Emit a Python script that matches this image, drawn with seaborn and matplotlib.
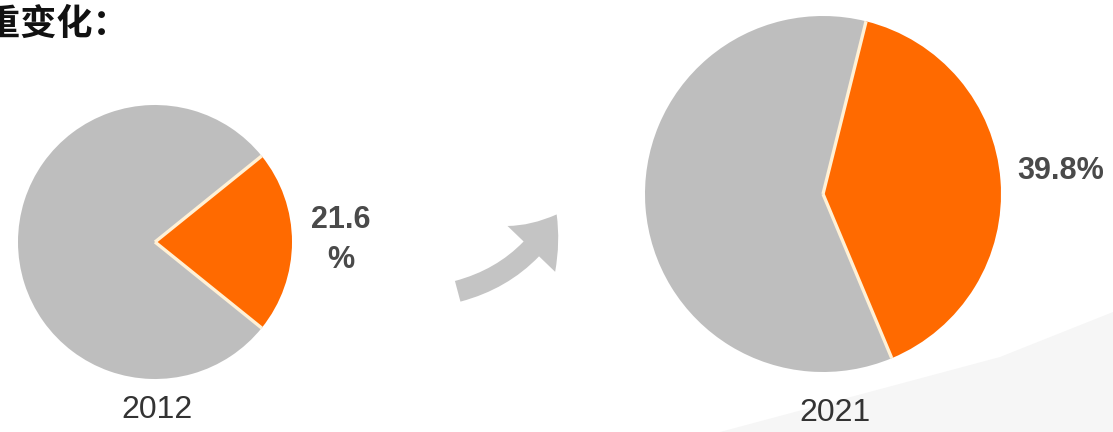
import matplotlib
matplotlib.use("Agg")
import numpy as np
import matplotlib.pyplot as plt
from matplotlib.patches import FancyArrowPatch, Polygon
import seaborn as sns

sns.set_theme(style="white")
plt.rcParams['font.family'] = ['Liberation Sans', 'Noto Sans CJK SC', 'DejaVu Sans']

# Share of the highlighted segment in each year
years = ["2012", "2021"]
share = [21.6, 39.8]
share_labels = ["21.6\n%", "39.8%"]
colors = ["#FF6A00", "#BEBEBE"]
title = "比重变化："

W, H = 1113, 432
fig = plt.figure(figsize=(W / 100, H / 100), dpi=100)
ax = fig.add_axes([0, 0, 1, 1])
ax.set_xlim(0, W)
ax.set_ylim(0, H)
ax.set_aspect("equal")
ax.axis("off")

# faint background shading in the lower right
ax.add_patch(Polygon([(720, 0), (1113, 0), (1113, 120), (1000, 75)],
                     closed=True, color="#F6F6F6", zorder=0, lw=0))

# pie layout: centre, radius, start angle, label positions
layout = [
    dict(center=(155, 190), radius=137, start=share[0] * 1.8, year_xy=(157, 22), lab_xy=(341, 192)),
    dict(center=(823, 238), radius=178, start=76, year_xy=(835, 19), lab_xy=(1061, 261)),
]

for yr, s, lab, L in zip(years, share, share_labels, layout):
    wedges, _ = ax.pie([s, 100 - s], colors=colors, center=L["center"], radius=L["radius"],
                       startangle=L["start"], counterclock=False,
                       wedgeprops=dict(linewidth=0))
    # light separator lines along the wedge boundaries
    cx, cy = L["center"]
    for w in wedges:
        t = np.deg2rad(w.theta1)
        ax.plot([cx, cx + L["radius"] * np.cos(t)], [cy, cy + L["radius"] * np.sin(t)],
                color="#FFF1D6", lw=2.4, solid_capstyle="butt", zorder=2)
    ax.text(*L["year_xy"], yr, ha="center", va="center", fontsize=23, color="#333333")
    ax.text(*L["lab_xy"], lab, ha="center", va="center", fontsize=22,
            fontweight="bold", color="#4A4A4A", linespacing=1.4)

ax.set_xlim(0, W)
ax.set_ylim(0, H)

# curved arrow between the two pies
arrow = FancyArrowPatch((455, 140), (558, 220),
                        connectionstyle="arc3,rad=0.22",
                        arrowstyle="simple,head_length=2.2,head_width=3.4,tail_width=1.1",
                        mutation_scale=14, color="#C4C4C4", lw=0, zorder=3)
ax.add_patch(arrow)

ax.text(-52, 408, title, ha="left", va="center", fontsize=26, fontweight="bold",
        color="#111111", family=["Noto Sans CJK SC", "DejaVu Sans"])

fig.savefig("out.png", dpi=100)
